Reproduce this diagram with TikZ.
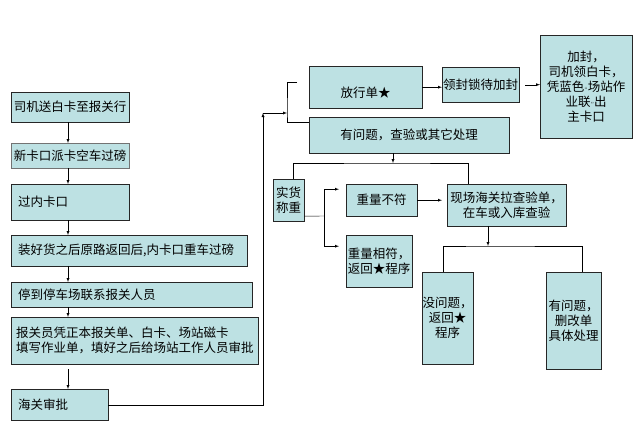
\documentclass[tikz,border=0pt]{standalone}
\usepackage{fontspec}
\newfontfamily\cjk{Noto Sans CJK SC}
\usetikzlibrary{arrows}

\newcommand{\smq}[1]{{\rmfamily\fontsize{6}{6}\selectfont #1}}

\begin{document}
\begin{tikzpicture}[x=1pt,y=-1pt,
        box/.style={draw=black!85, fill=boxblue, anchor=north west, inner sep=0pt, font=\cjk\fontsize{12.5}{15}\selectfont},
        lbox/.style={box, align=left, inner xsep=7pt},
        cbox/.style={box, align=center},
        arr/.style={-latex}]
        \definecolor{boxblue}{RGB}{189,225,227}
        \useasboundingbox (0,0) rectangle (637,434);

        % left column
        \node[cbox, minimum width=118pt, minimum height=30pt] (b1) at (11,92) {司机送白卡至报关行};
        \node[cbox, draw=black!55, minimum width=118pt, minimum height=25pt] (b2) at (11,143) {新卡口派卡空车过磅};
        \node[lbox, text width=104pt, minimum height=36pt] (b3) at (11,184) {过内卡口};
        \node[lbox, text width=222pt, minimum height=31pt] (b4) at (11,235) {装好货之后原路返回后,内卡口重车过磅};
        \node[lbox, text width=227pt, minimum height=25pt] (b5) at (11,282) {停到停车场联系报关人员};
        \node[lbox, inner xsep=5pt, text width=237pt, minimum height=47pt] (b6) at (11,317) {报关员凭正本报关单、白卡、场站磁卡\\填写作业单，填好之后给场站工作人员审批};
        \node[lbox, text width=83pt, minimum height=31pt] (b7) at (11,389) {海关审批};

        \draw[arr] ([xshift=57pt]b1.south west) -- ([xshift=57pt]b2.north west);
        \draw[arr] ([xshift=57pt]b2.south west) -- ([xshift=57pt]b3.north west);
        \draw[arr] ([xshift=57pt]b3.south west) -- ([xshift=57pt]b4.north west);
        \draw[arr] ([xshift=57pt]b4.south west) -- ([xshift=57pt]b5.north west);
        \draw[arr] ([xshift=57pt]b5.south west) -- ([xshift=57pt]b6.north west);
        \draw[arr, shorten <=5pt] ([xshift=57pt]b6.south west) -- ([xshift=57pt]b7.north west);

        % top right
        \node[cbox, minimum width=113pt, minimum height=42pt, text height=20pt, text depth=0pt] (fx) at (309,66) {放行单★};
        \node[cbox, minimum width=77pt, minimum height=35pt] (lf) at (442,67) {领封锁待加封};
        \node[cbox, minimum width=92pt, minimum height=103pt] (jf) at (540,35) {加封，\\司机领白卡，\\凭蓝色\smq{``}场站作\\业联\smq{''}出\\主卡口};
        \node[cbox, minimum width=200pt, minimum height=36pt] (yw) at (309,117) {有问题，查验或其它处理};

        \coordinate (up) at (263,113);
        \coordinate (sp) at (287,113);
        \draw[arr] (b7.east) -| (up);
        \draw[arr] (up) -- (sp);
        \draw[shorten <=6pt] ([shift={(-6pt,5pt)}]fx.west) -| (sp) |- ([yshift=13pt]yw.west);
        \draw[arr] (fx.east) -- (fx.east -| lf.west);
        \draw[arr, shorten <=6pt] (lf.east) -- (lf.east -| jf.west);

        % weighing
        \node[cbox, minimum width=31pt, minimum height=42pt] (sh) at (273,179) {实货\\称重};
        \node[cbox, minimum width=71pt, minimum height=32pt] (zb) at (346,184) {重量不符};
        \node[cbox, minimum width=119pt, minimum height=42pt] (xc) at (447,184) {现场海关拉查验单，\\在车或入库查验};
        \node[cbox, minimum width=66pt, minimum height=52pt] (zx) at (346,235) {重量相符，\\返回★程序};

        \coordinate (ya) at (393,163);
        \draw[arr] (yw.south -| ya) -- (ya);
        \draw ([xshift=4.5pt]sh.north) |- (ya) -| ([xshift=-38.5pt]xc.north);

        \coordinate (sb) at (324,216);
        \draw ([yshift=-16pt]sh.east) -- (sb);
        \draw[arr, shorten >=7pt] (sb) |- ([yshift=11pt]zb.west);
        \draw[arr, shorten >=7pt] (sb) |- ([yshift=15pt]zx.west);
        \draw[arr, shorten >=5pt] (zb.east) -- (zb.east -| xc.west);

        % inspection result
        \node[cbox, minimum width=51pt, minimum height=92pt] (mw) at (422,272) {没问题，\\返回★\\程序};
        \node[cbox, minimum width=55pt, minimum height=97pt] (yg) at (546,272) {有问题，\\删改单\\具体处理};

        \coordinate (xa) at (488,246);
        \draw[arr] (xc.south -| xa) -- (xa);
        \draw ([xshift=-4.5pt]mw.north) |- (xa) -| ([xshift=8.5pt]yg.north);
\end{tikzpicture}
\end{document}
